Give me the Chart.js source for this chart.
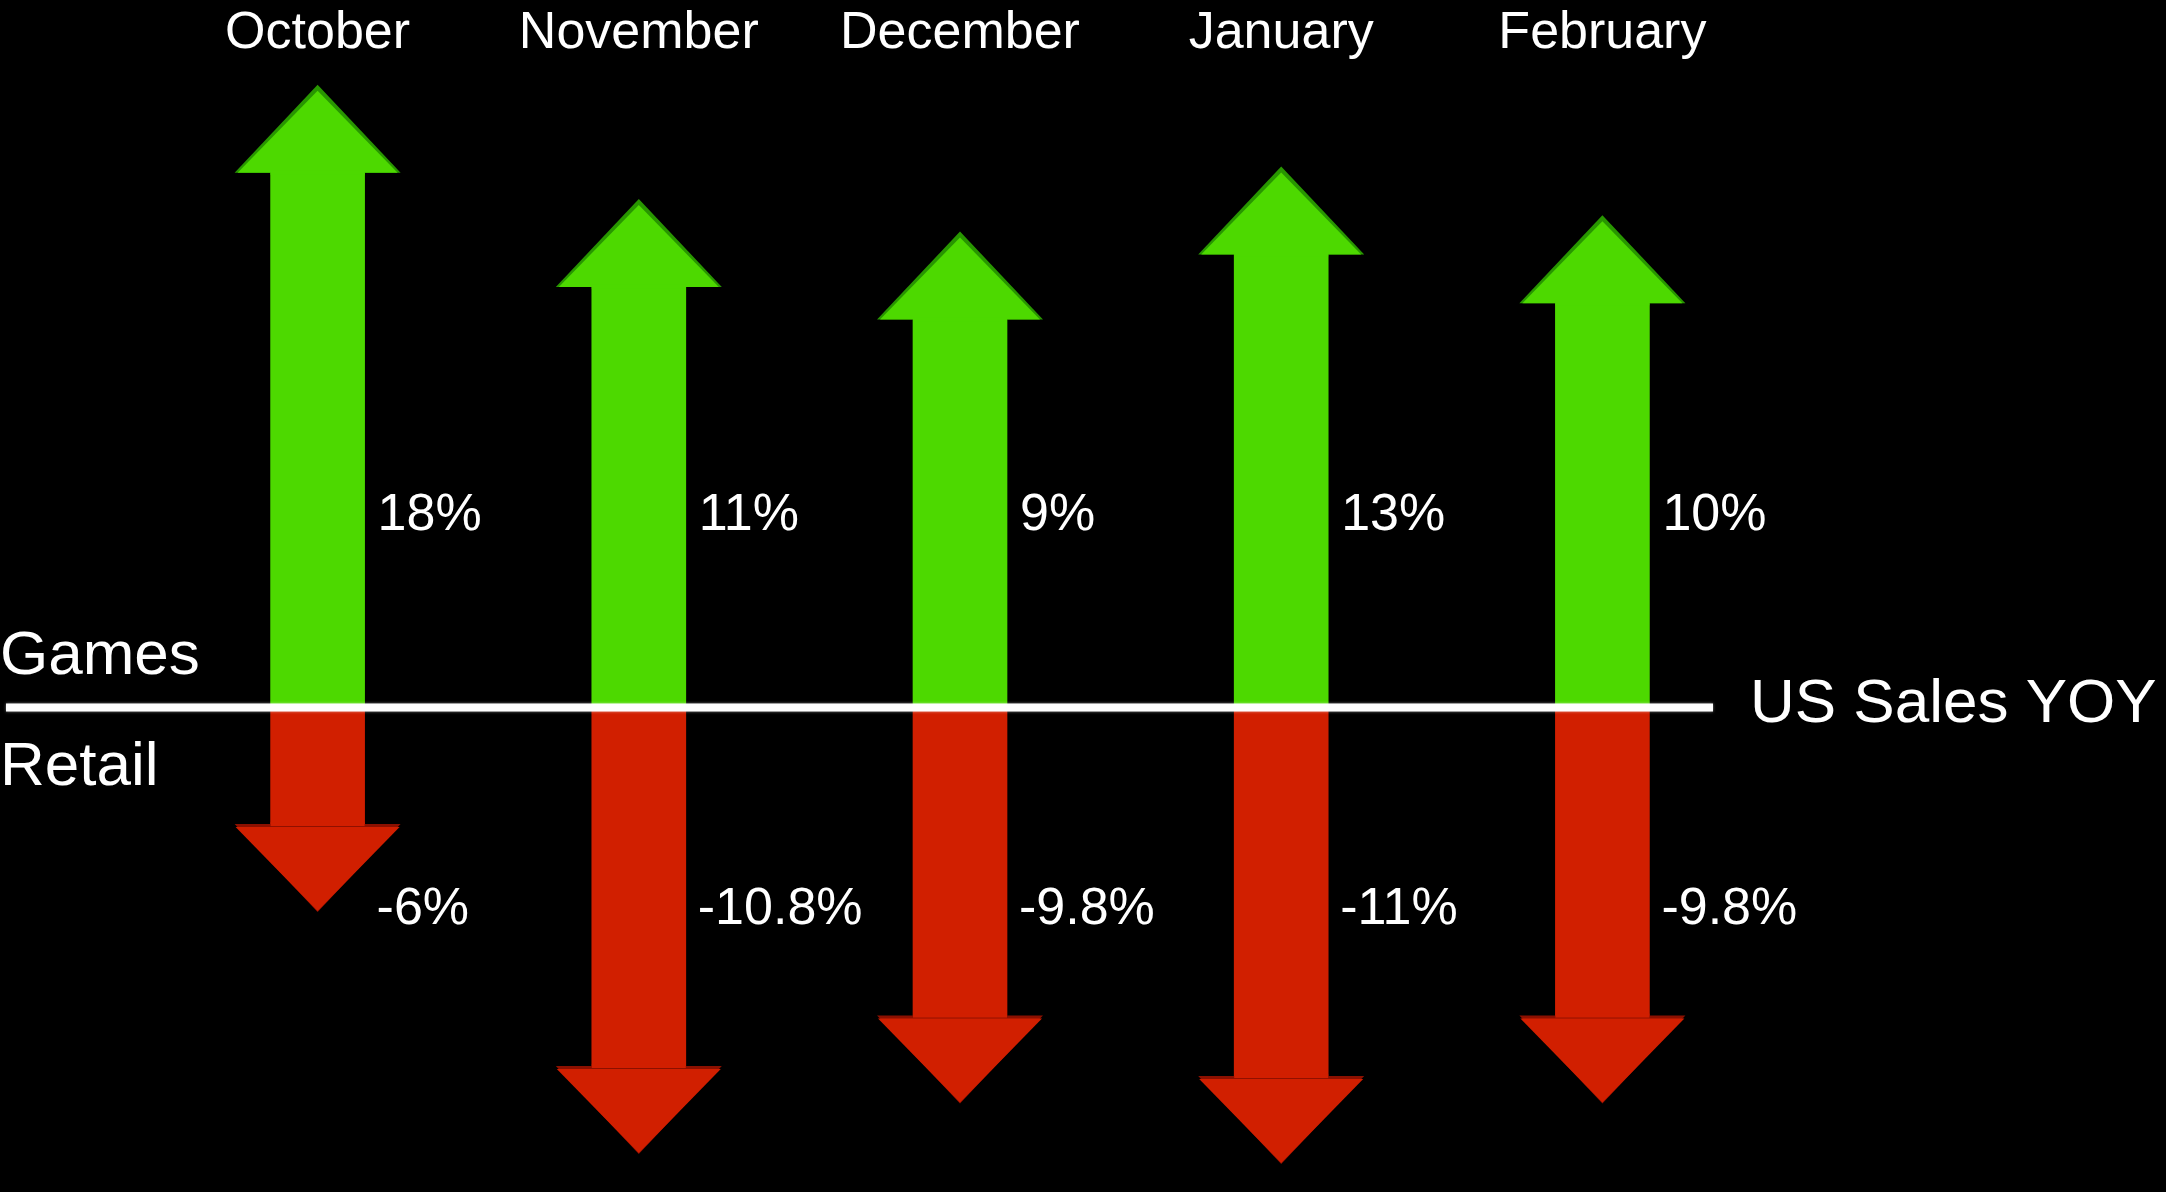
<!DOCTYPE html>
<html>
<head>
<meta charset="utf-8">
<script src="https://cdn.jsdelivr.net/npm/chart.js@4.4.1/dist/chart.umd.min.js"></script>
<style>
  html, body { margin: 0; padding: 0; background: #000; }
  canvas { display: block; }
</style>
</head>
<body>
<canvas id="yoyChart" width="2166" height="1192"></canvas>
<script>
// DATA
const months = ['October', 'November', 'December', 'January', 'February'];
const gamesYoy = [18, 11, 9, 13, 10];
const retailYoy = [-6, -10.8, -9.8, -11, -9.8];

const GREEN = 'rgb(77, 217, 0)';
const GREEN_DARK = 'rgb(40, 150, 0)';
const RED = 'rgb(209, 31, 0)';
const RED_DARK = 'rgb(140, 16, 0)';
const FONT = '"Liberation Sans", Arial, Helvetica, sans-serif';

// arrow heads, zero line and all the text
const arrowPlugin = {
  id: 'arrowPlugin',
  afterDatasetsDraw(chart) {
    const ctx = chart.ctx;
    const headH = 88;
    const headHalf = 83;

    chart.data.datasets.forEach((ds, i) => {
      const meta = chart.getDatasetMeta(i);
      meta.data.forEach((bar, j) => {
        const dir = bar.y < bar.base ? -1 : 1;
        const tipY = bar.y + dir * headH;

        ctx.save();
        ctx.fillStyle = dir < 0 ? GREEN_DARK : RED_DARK;
        ctx.beginPath();
        ctx.moveTo(bar.x - headHalf, bar.y);
        ctx.lineTo(bar.x + headHalf, bar.y);
        ctx.lineTo(bar.x, tipY);
        ctx.closePath();
        ctx.fill();

        ctx.fillStyle = dir < 0 ? GREEN : RED;
        ctx.beginPath();
        if (dir < 0) {
          ctx.moveTo(bar.x - headHalf + 3, bar.y);
          ctx.lineTo(bar.x + headHalf - 3, bar.y);
          ctx.lineTo(bar.x, tipY + 6);
        } else {
          ctx.moveTo(bar.x - headHalf + 1, bar.y + 3);
          ctx.lineTo(bar.x + headHalf - 1, bar.y + 3);
          ctx.lineTo(bar.x, tipY - 1);
        }
        ctx.closePath();
        ctx.fill();
        // keep the shaft colour through the head base
        ctx.fillRect(bar.x - bar.width / 2, bar.y - 2, bar.width, 4);
        ctx.restore();

        // percent label
        ctx.save();
        ctx.fillStyle = '#fff';
        ctx.font = '52px ' + FONT;
        ctx.textAlign = 'left';
        ctx.textBaseline = 'alphabetic';
        const txt = ds.data[j] + '%';
        if (dir < 0) {
          ctx.fillText(txt, bar.x + bar.width / 2 + 13, 530);
        } else {
          ctx.fillText(txt, bar.x + bar.width / 2 + 12, 924);
        }
        ctx.restore();
      });
    });

    // zero line
    ctx.save();
    ctx.strokeStyle = '#fff';
    ctx.lineWidth = 8;
    ctx.shadowColor = 'rgba(255,255,255,0.5)';
    ctx.shadowBlur = 3;
    ctx.beginPath();
    ctx.moveTo(6, 707.5);
    ctx.lineTo(1713, 707.5);
    ctx.stroke();
    ctx.restore();

    // month labels
    const xScale = chart.scales.x;
    ctx.save();
    ctx.fillStyle = '#fff';
    ctx.font = '52px ' + FONT;
    ctx.textAlign = 'center';
    ctx.textBaseline = 'alphabetic';
    months.forEach((m, i) => {
      ctx.fillText(m, xScale.getPixelForValue(i), 48);
    });

    ctx.font = '62px ' + FONT;
    ctx.textAlign = 'left';
    ctx.fillText('Games', 0, 674);
    ctx.fillText('Retail', 0, 785);
    ctx.fillText('US Sales YOY', 1750, 722);
    ctx.restore();
  },
};

function yoyArrowChart() {
  const data = {
    labels: months,
    datasets: [
      {
        label: 'Games',
        data: gamesYoy,
        yAxisID: 'yGames',
        base: -14.7,
        backgroundColor: GREEN,
        borderWidth: 0,
        barThickness: 94,
        grouped: false,
      },
      {
        label: 'Retail',
        data: retailYoy,
        yAxisID: 'yRetail',
        base: -3.7,
        backgroundColor: RED,
        borderWidth: 0,
        barThickness: 94,
        grouped: false,
      },
    ],
  };

  // CONFIG
  const config = {
    type: 'bar',
    data,
    plugins: [arrowPlugin],
    options: {
      responsive: false,
      animation: false,
      layout: {
        padding: { left: 157, right: 403, top: 0, bottom: 0 },
      },
      plugins: {
        legend: { display: false },
        tooltip: { enabled: false },
      },
      scales: {
        x: { display: false },
        // the two series are drawn on their own scales, both meeting at the zero line
        yGames: { display: false, min: -44.5, max: 28.6 },
        yRetail: { display: false, min: -13.3, max: 10.35 },
      },
    },
  };

  // RENDER
  const yoyChart = new Chart(document.getElementById('yoyChart'), config);
}

yoyArrowChart();
</script>
</body>
</html>
